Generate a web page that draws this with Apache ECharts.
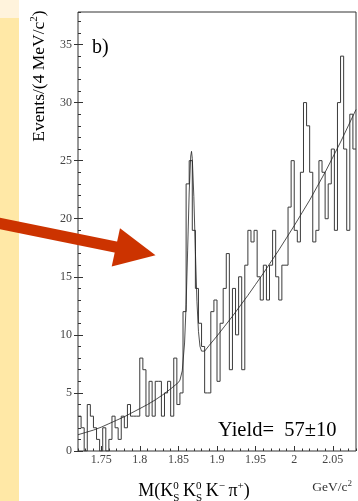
<!DOCTYPE html>
<html>
<head>
<meta charset="utf-8">
<script src="https://cdn.jsdelivr.net/npm/echarts@6/dist/echarts.min.js"></script>
<style>
  html, body { margin: 0; padding: 0; background: #ffffff; }
  #chart { width: 358px; height: 501px; }
</style>
</head>
<body>
<div id="chart"></div>
<script>
// Invariant mass spectrum, 4 MeV bins from 1.72 to 2.08 GeV/c^2
const massLow = 1.72;
const massHigh = 2.08;
const binWidth = 0.004;
const counts = [
  3, 2, 0, 4, 3, 2, 1, 0, 2, 0,
  1, 3, 2, 1, 3, 2, 4, 3, 3, 3,
  8, 7, 3, 6, 3, 6, 6, 3, 5, 6,
  3, 8, 4, 5, 12, 23, 25, 19, 14, 11,
  9, 5, 5, 12, 13, 6, 11, 14, 17, 7,
  14, 10, 15, 7, 16, 19, 18, 19, 15, 13,
  16, 13, 16, 19, 15, 13, 16, 16, 21, 25,
  19, 18, 24, 30, 28, 24, 18, 19, 25, 24,
  20, 23, 26, 19, 30, 34, 26, 19, 29, 26
];

// Fitted curve: signal peak on a smooth background
const fitMass = [
  1.72, 1.73, 1.74, 1.75, 1.76, 1.77, 1.78, 1.79, 1.80, 1.81,
  1.82, 1.83, 1.84, 1.85, 1.852, 1.855, 1.858, 1.860, 1.862, 1.864,
  1.866, 1.867, 1.868, 1.870, 1.872, 1.874, 1.876, 1.878, 1.880, 1.884,
  1.89, 1.90, 1.91, 1.92, 1.93, 1.94, 1.95, 1.96, 1.97, 1.98,
  1.99, 2.00, 2.01, 2.02, 2.03, 2.04, 2.05, 2.06, 2.07, 2.08
];
const fitValue = [
  1.4, 1.6, 1.8, 2.05, 2.35, 2.65, 2.95, 3.3, 3.65, 4.0,
  4.4, 4.85, 5.35, 5.9, 6.1, 6.9, 9.3, 12.6, 17.3, 22.3,
  25.4, 25.8, 25.2, 21.9, 17.2, 12.9, 10.3, 9.0, 8.6, 8.6,
  9.1, 9.9, 10.75, 11.6, 12.5, 13.4, 14.35, 15.3, 16.3, 17.3,
  18.35, 19.4, 20.5, 21.6, 22.8, 24.0, 25.3, 26.6, 28.0, 29.4
];

const xTickValues = [1.75, 1.8, 1.85, 1.9, 1.95, 2, 2.05];
const yTickValues = [0, 5, 10, 15, 20, 25, 30, 35];
const yMax = 37.8;

const SERIF = '"Liberation Serif", "Times New Roman", serif';
const AXIS_COLOR = '#333';
const LABEL_COLOR = '#444';

// Step outline points: left edge of every bin plus the closing right edge
const histPoints = counts.map((c, i) => [massLow + i * binWidth, c]);
histPoints.push([massHigh, counts[counts.length - 1]]);
const fitPoints = fitMass.map((m, i) => [m, fitValue[i]]);

// Text measuring for hand-built formulas with sub/superscripts
const measureCtx = document.createElement('canvas').getContext('2d');
function textWidth(str, size) {
  measureCtx.font = size + 'px ' + SERIF;
  return measureCtx.measureText(str).width;
}
// parts: {t, size, dy, stack} ; stack=true means next part shares this x
function formula(parts, color) {
  const children = [];
  let x = 0;
  let pendingWidth = 0;
  parts.forEach(p => {
    const w = textWidth(p.t, p.size);
    children.push({
      type: 'text',
      x: x, y: p.dy || 0,
      style: {
        text: p.t, fill: color,
        font: p.size + 'px ' + SERIF,
        fontSize: p.size, fontFamily: SERIF,
        textAlign: 'left', align: 'left',
        textVerticalAlign: 'bottom', verticalAlign: 'bottom'
      }
    });
    if (p.stack) {
      pendingWidth = Math.max(pendingWidth, w);
    } else {
      x += Math.max(pendingWidth, w);
      pendingWidth = 0;
    }
  });
  return { children, width: x };
}

const xTitle = formula([
  { t: 'M(K', size: 18 },
  { t: 'S', size: 11, dy: 4, stack: true },
  { t: '0', size: 11, dy: -8 },
  { t: '\u2009K', size: 18 },
  { t: 'S', size: 11, dy: 4, stack: true },
  { t: '0', size: 11, dy: -8 },
  { t: '\u2009K', size: 18 },
  { t: '\u2212', size: 11, dy: -8 },
  { t: '\u2009\u03c0', size: 18 },
  { t: '+', size: 11, dy: -8 },
  { t: ')', size: 18 }
], '#000');

const yTitle = formula([
  { t: 'Events/(4 MeV/c', size: 17.5 },
  { t: '2', size: 11, dy: -8 },
  { t: ')', size: 17.5 }
], '#000');

const unitLabel = formula([
  { t: 'GeV/c', size: 13.5 },
  { t: '2', size: 9, dy: -6 }
], '#333');

const chart = echarts.init(document.getElementById('chart'), null, { renderer: 'canvas' });

const minorX = {
  type: 'value', min: massLow, max: massHigh, interval: 0.01,
  position: 'bottom',
  axisLine: { show: false },
  axisTick: { show: true, inside: true, length: 2.5, lineStyle: { color: AXIS_COLOR, width: 1 } },
  axisLabel: { show: false },
  splitLine: { show: false }
};
const majorX = {
  type: 'value', min: massLow, max: massHigh,
  position: 'bottom',
  axisLine: { show: false },
  axisTick: { show: true, inside: true, length: 5, customValues: xTickValues, lineStyle: { color: AXIS_COLOR, width: 1 } },
  axisLabel: {
    show: true, customValues: xTickValues, margin: 3,
    fontFamily: SERIF, fontSize: 12, color: LABEL_COLOR,
    formatter: v => String(+v.toFixed(2))
  },
  splitLine: { show: false }
};
const minorY = {
  type: 'value', min: 0, max: yMax, interval: 1,
  position: 'left',
  axisLine: { show: false },
  axisTick: { show: true, inside: true, length: 3, lineStyle: { color: AXIS_COLOR, width: 1 } },
  axisLabel: { show: false },
  splitLine: { show: false }
};
const majorYOut = {
  type: 'value', min: 0, max: yMax,
  position: 'left',
  axisLine: { show: false },
  axisTick: { show: true, inside: false, length: 4, customValues: yTickValues, lineStyle: { color: AXIS_COLOR, width: 1 } },
  axisLabel: {
    show: true, customValues: yTickValues, margin: 6,
    fontFamily: SERIF, fontSize: 12, color: LABEL_COLOR
  },
  splitLine: { show: false }
};
const majorYIn = {
  type: 'value', min: 0, max: yMax,
  position: 'left',
  axisLine: { show: false },
  axisTick: { show: true, inside: true, length: 5, customValues: yTickValues, lineStyle: { color: AXIS_COLOR, width: 1 } },
  axisLabel: { show: false },
  splitLine: { show: false }
};

// Slide decoration: pale side strip and the pointer arrow
const arrowSlope = 0.2033;
const arrowShaft = [
  [-2, 217.7 - 2 * arrowSlope], [118, 217.7 + 118 * arrowSlope],
  [118, 229.3 + 118 * arrowSlope], [-2, 229.3 - 2 * arrowSlope]
];
const arrowHead = [[120, 228.3], [155.5, 255.2], [111.7, 266.5]];

chart.setOption({
  animation: false,
  backgroundColor: '#ffffff',
  grid: {
    left: 78, top: 12, width: 278, height: 439,
    show: true, borderColor: AXIS_COLOR, borderWidth: 1,
    backgroundColor: 'transparent', containLabel: false
  },
  xAxis: [minorX, majorX],
  yAxis: [minorY, majorYOut, majorYIn],
  series: [
    {
      name: 'Data', type: 'line', step: 'end',
      xAxisIndex: 0, yAxisIndex: 0,
      data: histPoints, showSymbol: false, symbol: 'none',
      lineStyle: { color: '#3a3a3a', width: 1 },
      z: 3
    },
    {
      name: 'Fit', type: 'line', smooth: false,
      xAxisIndex: 0, yAxisIndex: 0,
      data: fitPoints, showSymbol: false, symbol: 'none',
      lineStyle: { color: '#222', width: 0.8 },
      z: 4
    }
  ],
  graphic: [
    { type: 'rect', left: 0, top: 0, z: -10, silent: true,
      shape: { x: 0, y: 0, width: 19, height: 501 },
      style: { fill: '#ffe8a6' } },
    { type: 'rect', left: 0, top: 0, z: -9, silent: true,
      shape: { x: 0, y: 0, width: 19, height: 18 },
      style: { fill: '#fff3dc' } },
    { type: 'text', x: 92, y: 58, z: 10,
      style: { text: 'b)', fill: '#000', font: '20px ' + SERIF,
               textAlign: 'left', align: 'left', textVerticalAlign: 'bottom', verticalAlign: 'bottom' } },
    { type: 'text', x: 218, y: 441, z: 10,
      style: { text: 'Yield=\u00a0\u00a057\u00b110', fill: '#000', font: '20.5px ' + SERIF,
               textAlign: 'left', align: 'left', textVerticalAlign: 'bottom', verticalAlign: 'bottom' } },
    { type: 'group', x: 352 - unitLabel.width, y: 494, z: 10, children: unitLabel.children },
    { type: 'group', x: 194 - xTitle.width / 2, y: 500, z: 10, children: xTitle.children },
    { type: 'group', x: 48, y: 76 + yTitle.width / 2, rotation: Math.PI / 2, z: 10, children: yTitle.children },
    { type: 'polygon', z: 50, silent: true,
      shape: { points: arrowShaft }, style: { fill: '#cc3300' } },
    { type: 'polygon', z: 50, silent: true,
      shape: { points: arrowHead }, style: { fill: '#cc3300' } }
  ]
});
</script>
</body>
</html>
